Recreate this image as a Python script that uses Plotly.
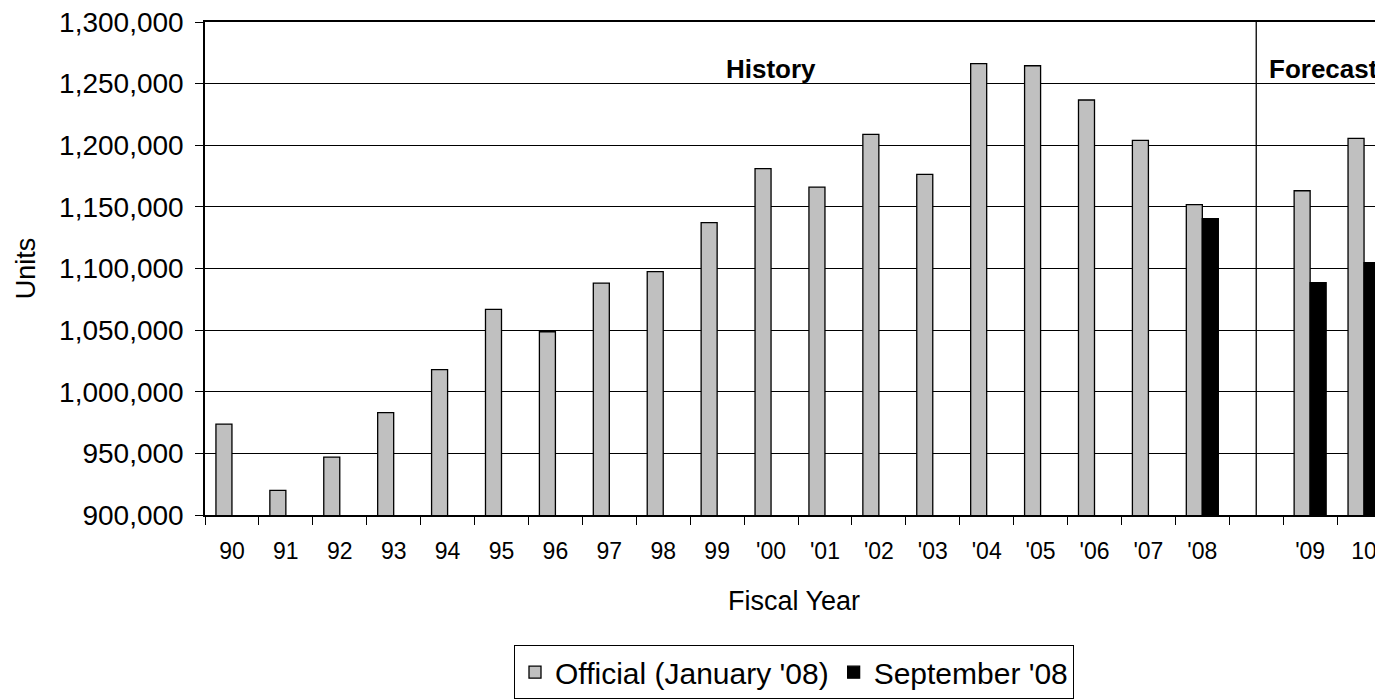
import plotly.graph_objects as go

# ---- data ----
categories = ["90", "91", "92", "93", "94", "95", "96", "97", "98", "99",
              "'00", "'01", "'02", "'03", "'04", "'05", "'06", "'07", "'08",
              " ", "'09", "10"]
official_jan08 = [973800, 920000, 947000, 983000, 1017900, 1066900, 1048700,
                  1088200, 1097400, 1137200, 1181000, 1166100, 1208900,
                  1176400, 1266200, 1264500, 1236700, 1204000, 1151800,
                  None, 1163100, 1205600]
september08 = [None, None, None, None, None, None, None, None, None, None,
               None, None, None, None, None, None, None, None, 1140400,
               None, 1088500, 1104700]
y_ticks = [900000, 950000, 1000000, 1050000, 1100000, 1150000, 1200000,
           1250000, 1300000]
series_names = ["Official (January '08)", "September '08"]
section_labels = ["History", "Forecast"]

FONT = "Arial, Liberation Sans, Helvetica, sans-serif"

fig = go.Figure()
fig.add_trace(go.Bar(
    x=categories, y=official_jan08, name=series_names[0],
    marker=dict(color="#C0C0C0", line=dict(color="black", width=1.3)),
))
fig.add_trace(go.Bar(
    x=categories, y=september08, name=series_names[1],
    marker=dict(color="black", line=dict(color="black", width=1.3)),
))

split_idx = categories.index(" ")
n = len(categories)

fig.add_shape(type="line", xref="x", yref="y",
              x0=split_idx, x1=split_idx, y0=y_ticks[0], y1=y_ticks[-1],
              line=dict(color="black", width=1.3))

fig.add_annotation(x=categories.index("'00"), y=1262000, xref="x", yref="y",
                   text="<b>%s</b>" % section_labels[0], showarrow=False,
                   font=dict(family=FONT, size=26, color="black"),
                   xanchor="center", yanchor="middle")
fig.add_annotation(x=split_idx + 1.25, y=1262000, xref="x", yref="y",
                   text="<b>%s</b>" % section_labels[1], showarrow=False,
                   font=dict(family=FONT, size=26, color="black"),
                   xanchor="center", yanchor="middle")

# the page body has an 8px margin, so the figure is sized/offset to compensate
fig.update_layout(
    width=1375, height=691,
    margin=dict(l=197, r=0, t=14, b=184, autoexpand=False),
    paper_bgcolor="white", plot_bgcolor="white",
    barmode="group", bargap=0.406, bargroupgap=0,
    font=dict(family=FONT, color="black"),
    showlegend=True,
    legend=dict(orientation="h", x=0.5, xanchor="center", y=-0.264,
                yanchor="top", bordercolor="black", borderwidth=1,
                bgcolor="white", font=dict(family=FONT, size=30, color="black"),
                traceorder="normal"),
)

fig.update_xaxes(
    type="category", categoryorder="array", categoryarray=categories,
    range=[-0.5, n - 0.5 - 8 / 53.9], automargin=False,
    showline=True, linecolor="black", linewidth=1.5, mirror=True,
    ticks="outside", tickson="boundaries", ticklen=8, tickcolor="black",
    tickwidth=1.3, showgrid=False, ticklabelstandoff=15,
    ticklabeloverflow="allow",
    tickfont=dict(family=FONT, size=23, color="black"),
    title=dict(text="Fiscal Year", font=dict(family=FONT, size=27, color="black"),
               standoff=28),
)
fig.update_yaxes(
    range=[y_ticks[0], y_ticks[-1]], tickvals=y_ticks, tickformat=",d",
    automargin=False,
    showline=True, linecolor="black", linewidth=1.5,
    ticks="outside", ticklen=8, tickcolor="black", tickwidth=1.3,
    showgrid=True, gridcolor="black", gridwidth=1.3, zeroline=False,
    ticklabelstandoff=6, ticklabeloverflow="allow",
    tickfont=dict(family=FONT, size=28, color="black"),
    title=dict(text="Units", font=dict(family=FONT, size=27, color="black"),
               standoff=16),
)

fig.write_html("out.html")
